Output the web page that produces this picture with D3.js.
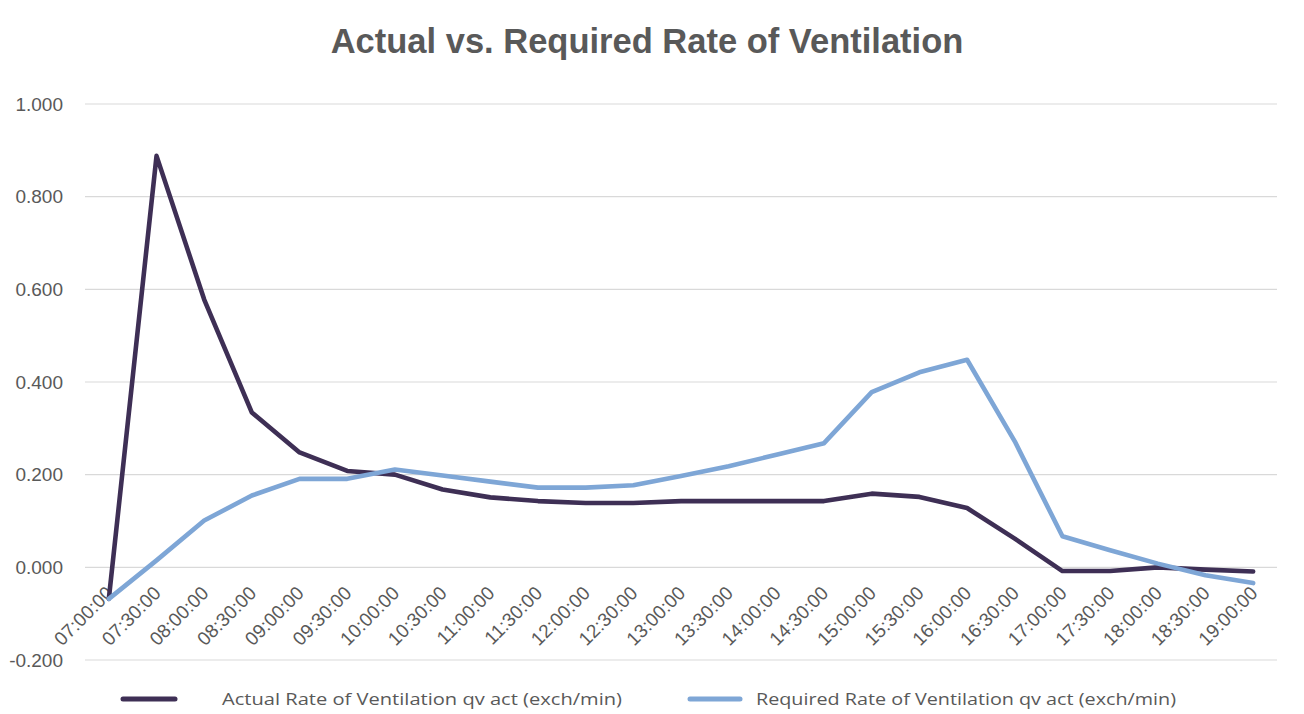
<!DOCTYPE html>
<html>
<head>
<meta charset="utf-8">
<script src="https://cdn.jsdelivr.net/npm/d3@7"></script>
<style>
  html, body { margin: 0; padding: 0; background: #ffffff; }
  svg { display: block; }
</style>
</head>
<body>
<svg id="chart" width="1304" height="714"></svg>
<script>
// Half-hourly readings, 07:00 to 19:00
const times = [
  "07:00:00", "07:30:00", "08:00:00", "08:30:00", "09:00:00", "09:30:00",
  "10:00:00", "10:30:00", "11:00:00", "11:30:00", "12:00:00", "12:30:00",
  "13:00:00", "13:30:00", "14:00:00", "14:30:00", "15:00:00", "15:30:00",
  "16:00:00", "16:30:00", "17:00:00", "17:30:00", "18:00:00", "18:30:00",
  "19:00:00"
];

// Actual rate of ventilation (exch/min)
const actualRate = [
  -0.068, 0.888, 0.578, 0.334, 0.248, 0.208,
  0.200, 0.168, 0.151, 0.143, 0.139, 0.139,
  0.143, 0.143, 0.143, 0.143, 0.159, 0.152,
  0.128, 0.062, -0.008, -0.008, 0.000, -0.005,
  -0.009
];

// Required rate of ventilation (exch/min)
const requiredRate = [
  -0.068, 0.015, 0.101, 0.155, 0.191, 0.191,
  0.211, 0.198, 0.185, 0.172, 0.172, 0.177,
  0.197, 0.218, 0.243, 0.268, 0.378, 0.421,
  0.448, 0.272, 0.067, 0.037, 0.008, -0.017,
  -0.034
];

const yTicks = [-0.2, 0, 0.2, 0.4, 0.6, 0.8, 1.0];

const seriesNames = [
  "Actual Rate of Ventilation qv act (exch/min)",
  "Required Rate of Ventilation qv act (exch/min)"
];
const seriesColors = ["#3e2f55", "#7ea6d6"];

const svg = d3.select("#chart");
const textColor = "#595959";
const axisFont = "'Liberation Sans', Arial, sans-serif";

const plot = { left: 85, right: 1277, top: 104, bottom: 660 };

const x = d3.scalePoint()
  .domain(times)
  .range([plot.left, plot.right])
  .padding(0.5);

const y = d3.scaleLinear()
  .domain([-0.2, 1.0])
  .range([plot.bottom, plot.top]);

// Title
svg.append("text")
  .attr("x", 647)
  .attr("y", 53)
  .attr("text-anchor", "middle")
  .attr("font-family", axisFont)
  .attr("font-weight", "bold")
  .attr("font-size", 34.5)
  .attr("fill", textColor)
  .text("Actual vs. Required Rate of Ventilation");

// Horizontal gridlines
svg.append("g")
  .selectAll("line")
  .data(yTicks)
  .join("line")
  .attr("x1", plot.left)
  .attr("x2", plot.right)
  .attr("y1", d => y(d))
  .attr("y2", d => y(d))
  .attr("stroke", "#d9d9d9")
  .attr("stroke-width", 1.2);

// Value axis labels (plain hyphen for negatives)
const fmt = d3.format(".3f");
const yAxis = d3.axisLeft(y)
  .tickValues(yTicks)
  .tickFormat(d => fmt(d).replace("\u2212", "-"))
  .tickSize(0)
  .tickPadding(0);

const yAxisG = svg.append("g")
  .attr("transform", "translate(63,0)")
  .call(yAxis);
yAxisG.select(".domain").remove();
yAxisG.selectAll("text")
  .attr("font-family", axisFont)
  .attr("font-size", 19)
  .attr("fill", textColor);

// Category axis labels, slanted, hanging from the zero line
const xAxis = d3.axisBottom(x).tickSize(0).tickPadding(0);
const xAxisG = svg.append("g")
  .attr("transform", `translate(0,${y(0)})`)
  .call(xAxis);
xAxisG.select(".domain").remove();
xAxisG.selectAll("text")
  .attr("font-family", axisFont)
  .attr("font-size", 19)
  .attr("fill", textColor)
  .attr("text-anchor", "end")
  .attr("dy", null)
  .attr("y", null)
  .attr("transform", "translate(5,27) rotate(-45)");

// Lines
const lineGen = d3.line()
  .x((d, i) => x(times[i]))
  .y(d => y(d));

[actualRate, requiredRate].forEach((vals, k) => {
  svg.append("path")
    .datum(vals)
    .attr("fill", "none")
    .attr("stroke", seriesColors[k])
    .attr("stroke-width", 4.6)
    .attr("stroke-linejoin", "round")
    .attr("stroke-linecap", "round")
    .attr("d", lineGen);
});

// Legend
const legendItems = [
  { x1: 123, x2: 175, tx: 222, tw: 400 },
  { x1: 690, x2: 740, tx: 756, tw: 420 }
];
const legendY = 699;
const legend = svg.append("g");
legendItems.forEach((it, k) => {
  legend.append("line")
    .attr("x1", it.x1).attr("x2", it.x2)
    .attr("y1", legendY).attr("y2", legendY)
    .attr("stroke", seriesColors[k])
    .attr("stroke-width", 5)
    .attr("stroke-linecap", "round");
  legend.append("text")
    .attr("x", it.tx)
    .attr("y", legendY)
    .attr("dy", "0.35em")
    .attr("font-family", "'Open Sans', sans-serif")
    .attr("font-size", 17)
    .attr("fill", textColor)
    .attr("textLength", it.tw)
    .attr("lengthAdjust", "spacingAndGlyphs")
    .text(seriesNames[k]);
});
</script>
</body>
</html>
